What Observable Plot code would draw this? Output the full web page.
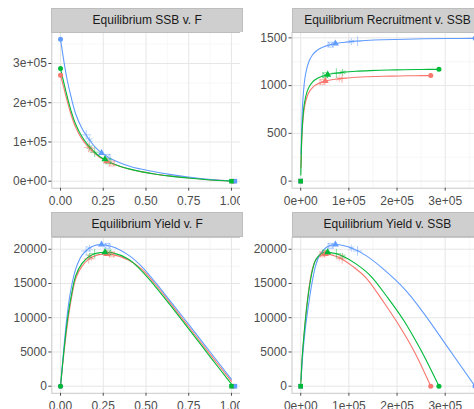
<!DOCTYPE html>
<html><head><meta charset="utf-8">
<script src="https://cdn.jsdelivr.net/npm/d3@7"></script>
<script src="https://cdn.jsdelivr.net/npm/@observablehq/plot@0.6"></script>
<style>
html,body{margin:0;padding:0;background:#fff;width:474px;height:409px;overflow:hidden;}
body{position:relative;font-family:"Liberation Sans",Arial,sans-serif;}
.panel{position:absolute;}
.panel svg{max-width:none !important;display:block;}
.strip{position:absolute;background:#cfcfcf;color:#1a1a1a;font-size:12px;text-align:center;white-space:nowrap;overflow:hidden;box-sizing:border-box;border:1px solid #bdbdbd;}
</style></head><body>
<script>
// ---- series ----
const seriesNames = ["s1", "s2", "s3"];
const seriesColors = ["#F8766D", "#619CFF", "#00BA38"];

// ---- equilibrium curves (fishing mortality grid) ----
const fGrid = [0, 0.02, 0.04, 0.06, 0.09, 0.125, 0.165, 0.2, 0.235, 0.3, 0.4, 0.47, 0.55, 0.64, 0.76, 0.88, 1.0];

const ssbS1 = [270000, 237000, 203000, 172000, 136000, 108000, 86000, 71000, 59000, 45000, 31000, 24500, 18500, 13500, 8000, 3500, 500];
const ssbS2 = [362000, 305000, 256000, 218000, 170000, 135000, 108000, 88000, 74000, 56000, 39000, 31000, 24000, 17500, 10000, 4500, 800];
const ssbS3 = [287000, 250000, 214000, 182000, 144000, 114000, 90000, 74000, 61000, 46000, 31500, 24500, 18500, 13000, 7500, 3000, 200];

const recS1 = [1105, 1104, 1101, 1098, 1092, 1085, 1076, 1067, 1057, 1039, 1006, 980, 942, 889, 779, 560, 140];
const recS2 = [1495, 1493, 1490, 1486, 1480, 1472, 1463, 1452, 1442, 1421, 1386, 1357, 1318, 1258, 1119, 849, 281];
const recS3 = [1170, 1169, 1166, 1163, 1157, 1150, 1141, 1131, 1121, 1101, 1066, 1037, 996, 934, 808, 547, 64];

const yieldS1 = [0, 4900, 9000, 12300, 15800, 17500, 18550, 19000, 19250, 19250, 18400, 17200, 15000, 12200, 8350, 4500, 700];
const yieldS2 = [0, 5700, 10600, 14000, 17200, 19100, 20100, 20550, 20680, 20400, 19100, 17600, 15300, 12500, 8700, 4850, 1000];
const yieldS3 = [0, 5200, 9600, 12800, 16200, 17900, 18900, 19350, 19520, 19500, 18500, 16950, 14700, 11900, 8050, 4150, 300];

// ---- reference points ----
const refNames = ["virgin", "msy", "crash", "f0.1", "fmax", "spr.30"];
const refFS1 = [0, 0.27, 1.01, 0.18, 0.165, 0.3];
const refFS2 = [0, 0.24, 1.02, 0.17, 0.15, 0.275];
const refFS3 = [0, 0.26, 1.0, 0.17, 0.2, 0.28];
const refSsbS1 = [270000, 51000, 0, 80000, 86000, 45000];
const refSsbS2 = [362000, 72000, 0, 105000, 118000, 62000];
const refSsbS3 = [287000, 56000, 0, 87000, 74000, 51000];
const refRecS1 = [1105, 1048, 0, 1072, 1076, 1039];
const refRecS2 = [1495, 1440, 0, 1461, 1466, 1429];
const refRecS3 = [1170, 1115, 0, 1139, 1131, 1108];
const refYieldS1 = [0, 19300, 0, 18800, 18600, 19250];
const refYieldS2 = [0, 20680, 0, 20150, 19750, 20500];
const refYieldS3 = [0, 19550, 0, 18950, 19350, 19500];

// ---- panel titles and ticks ----
const panelTitles = ["Equilibrium SSB v. F", "Equilibrium Recruitment v. SSB", "Equilibrium Yield v. F", "Equilibrium Yield v. SSB"];
const fTicks = [0, 0.25, 0.5, 0.75, 1];
const fTickLabels = ["0.00", "0.25", "0.50", "0.75", "1.00"];
const fMinor = [0.125, 0.375, 0.625, 0.875];
const ssbTicks = [0, 100000, 200000, 300000];
const ssbTickLabels = ["0e+00", "1e+05", "2e+05", "3e+05"];
const ssbMinor = [50000, 150000, 250000, 350000];
const recTicks = [0, 500, 1000, 1500];
const recTickLabels = ["0", "500", "1000", "1500"];
const recMinor = [250, 750, 1250];
const yieldTicks = [0, 5000, 10000, 15000, 20000];
const yieldTickLabels = ["0", "5000", "10000", "15000", "20000"];
const yieldMinor = [2500, 7500, 12500, 17500];

// ---- build tables ----
const curveSets = {s1: [ssbS1, recS1, yieldS1], s2: [ssbS2, recS2, yieldS2], s3: [ssbS3, recS3, yieldS3]};
const refSets = {
  s1: [refFS1, refSsbS1, refRecS1, refYieldS1],
  s2: [refFS2, refSsbS2, refRecS2, refYieldS2],
  s3: [refFS3, refSsbS3, refRecS3, refYieldS3]
};
const curves = [];
const refs = [];
for (const s of seriesNames) {
  const [ss, rr, yy] = curveSets[s];
  fGrid.forEach((f, i) => curves.push({series: s, F: f, ssb: ss[i], rec: rr[i], yield: yy[i]}));
  const [rf, rs, rrec, ry] = refSets[s];
  refNames.forEach((n, i) => refs.push({series: s, ref: n, F: rf[i], ssb: rs[i], rec: rrec[i], yield: ry[i]}));
}

const fontFamily = '"Liberation Sans", Arial, sans-serif';

function makePanel(o) {
  const lab = (ticks, labels) => { const m = new Map(ticks.map((t, i) => [t, labels[i]])); return d => m.get(d); };
  const X = o.x, Y = o.y;
  const dotsOf = (name) => refs.filter(r => r.ref === name);
  return Plot.plot({
    width: o.width, height: o.height,
    marginLeft: o.ml, marginRight: o.mr, marginTop: 0, marginBottom: o.mb,
    style: {fontFamily, fontSize: "12px", background: "white", overflow: "visible"},
    x: {domain: o.xDomain, axis: null},
    y: {domain: o.yDomain, axis: null},
    color: {domain: seriesNames, range: seriesColors},
    marks: [
      Plot.ruleX(o.xMinor, {stroke: "#f3f3f3", strokeWidth: 0.7}),
      Plot.ruleY(o.yMinor, {stroke: "#f3f3f3", strokeWidth: 0.7}),
      Plot.ruleX(o.xTicks, {stroke: "#e6e6e6", strokeWidth: 1}),
      Plot.ruleY(o.yTicks, {stroke: "#e6e6e6", strokeWidth: 1}),
      Plot.frame({stroke: "#c8c8c8"}),
      Plot.line(curves, {x: X, y: Y, z: "series", stroke: "series", curve: "catmull-rom", strokeWidth: 1.1}),
      Plot.dot(dotsOf("spr.30"), {x: X, y: Y, symbol: "square", stroke: "series", fill: "none", r: 2.8, strokeWidth: 0.9, strokeOpacity: 0.55}),
      Plot.dot(dotsOf("spr.30"), {x: X, y: Y, symbol: "times", stroke: "series", r: 2.8, strokeWidth: 0.9, strokeOpacity: 0.55}),
      Plot.dot(dotsOf("f0.1"), {x: X, y: Y, symbol: "asterisk", stroke: "series", r: 3.2, strokeWidth: 0.9, strokeOpacity: 0.55}),
      Plot.dot(dotsOf("fmax"), {x: X, y: Y, symbol: "plus", stroke: "series", r: 3.2, strokeWidth: 0.9, strokeOpacity: 0.55}),
      Plot.dot(dotsOf("virgin"), {x: X, y: Y, symbol: "circle", fill: "series", r: 2.5}),
      Plot.dot(dotsOf("msy"), {x: X, y: Y, symbol: "triangle", fill: "series", r: 2.6}),
      Plot.dot(dotsOf("crash"), {x: X, y: Y, symbol: "square", fill: "series", r: 2.6}),
      Plot.axisX({ticks: o.xTicks, tickFormat: lab(o.xTicks, o.xLabels), label: null, tickSize: 3, tickPadding: 5, fontSize: 12, color: "#4d4d4d"}),
      Plot.axisY({ticks: o.yTicks, tickFormat: lab(o.yTicks, o.yLabels), label: null, tickSize: 3, tickPadding: 2, fontSize: 12, color: "#4d4d4d"})
    ]
  });
}

const fDomain = [-0.051, 1.071];
const ssbXDomain = [-18100, 380100];
const panels = [
  {left: 0, top: 32.3, width: 245, height: 178, ml: 51.3, mr: 1.9, mb: 22.3,
   x: "F", y: "ssb", xDomain: fDomain, yDomain: [-17800, 379000],
   xTicks: fTicks, xLabels: fTickLabels, xMinor: fMinor,
   yTicks: ssbTicks, yLabels: ssbTickLabels, yMinor: ssbMinor},
  {left: 240, top: 32.3, width: 245, height: 178, ml: 51.5, mr: 1.7, mb: 22.3,
   x: "ssb", y: "rec", xDomain: ssbXDomain, yDomain: [-74, 1556],
   xTicks: ssbTicks, xLabels: ssbTickLabels, xMinor: ssbMinor,
   yTicks: recTicks, yLabels: recTickLabels, yMinor: recMinor},
  {left: 0, top: 236.7, width: 245, height: 172.3, ml: 51.3, mr: 1.9, mb: 16.5,
   x: "F", y: "yield", xDomain: fDomain, yDomain: [-1034, 21714],
   xTicks: fTicks, xLabels: fTickLabels, xMinor: fMinor,
   yTicks: yieldTicks, yLabels: yieldTickLabels, yMinor: yieldMinor},
  {left: 240, top: 236.7, width: 245, height: 172.3, ml: 51.5, mr: 1.7, mb: 16.5,
   x: "ssb", y: "yield", xDomain: ssbXDomain, yDomain: [-1034, 21714],
   xTicks: ssbTicks, xLabels: ssbTickLabels, xMinor: ssbMinor,
   yTicks: yieldTicks, yLabels: yieldTickLabels, yMinor: yieldMinor}
];

panels.forEach((p, i) => {
  const div = document.createElement("div");
  div.className = "panel";
  div.style.left = p.left + "px";
  div.style.top = p.top + "px";
  div.style.width = p.width + "px";
  div.style.height = p.height + "px";
  div.appendChild(makePanel(p));
  document.body.appendChild(div);
  const strip = document.createElement("div");
  strip.className = "strip";
  const sLeft = p.left + p.ml, sWidth = p.width - p.ml - p.mr;
  strip.style.left = sLeft + "px";
  strip.style.width = sWidth + "px";
  strip.style.top = (p.top - 24.8) + "px";
  strip.style.height = "25px";
  strip.style.lineHeight = "23px";
  strip.textContent = panelTitles[i];
  document.body.appendChild(strip);
});
</script>
</body></html>
